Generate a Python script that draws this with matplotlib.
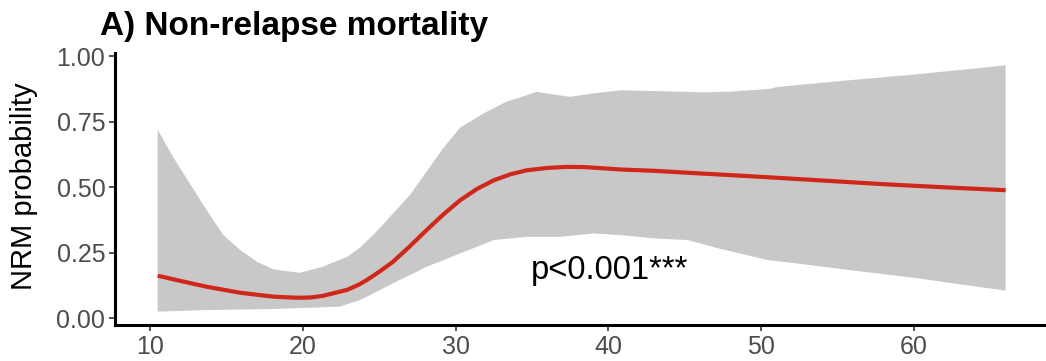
import numpy as np
import matplotlib.pyplot as plt

plt.rcParams['font.family'] = ['Liberation Sans', 'DejaVu Sans']

# fitted NRM probability by age
age = [10.5, 12, 13.7, 15.9, 18.1, 19.6, 20.5, 21.3, 22.9, 23.7, 24.2, 25.05,
       25.9, 27.0, 28.1, 29.2, 30.3, 31.4, 32.5, 33.6, 34.65, 36.0, 37.3,
       38.5, 40.8, 43, 46, 50, 54, 58, 62, 66]
nrm = [0.163, 0.143, 0.121, 0.098, 0.083, 0.079, 0.080, 0.086, 0.109, 0.130,
       0.147, 0.180, 0.216, 0.275, 0.337, 0.397, 0.451, 0.494, 0.527, 0.550,
       0.565, 0.574, 0.578, 0.577, 0.568, 0.563, 0.553, 0.540, 0.526, 0.512,
       0.500, 0.489]

# confidence band, upper edge
up_age = [10.5, 11.5, 12.6, 13.7, 14.8, 15.9, 17.0, 18.1, 19.8, 21.3, 22.9,
          23.74, 24.8, 25.9, 27.0, 28.1, 29.2, 30.3, 31.8, 33.3, 34.6, 35.3,
          36.8, 37.5, 39.0, 40.8, 43, 45.2, 46.2, 48, 50.5, 51.1, 55.7, 60,
          66]
up_val = [0.720, 0.616, 0.515, 0.413, 0.318, 0.261, 0.216, 0.187, 0.174,
          0.197, 0.235, 0.270, 0.330, 0.400, 0.470, 0.560, 0.650, 0.728,
          0.781, 0.826, 0.850, 0.864, 0.851, 0.845, 0.858, 0.870, 0.867,
          0.864, 0.862, 0.865, 0.875, 0.883, 0.908, 0.930, 0.965]

# confidence band, lower edge
lo_age = [10.5, 13.7, 18.1, 22.4, 23.74, 24.6, 25.9, 28.1, 30.3, 32.5, 34.6,
          36.8, 39.0, 40.8, 43, 45.2, 47, 50.4, 53, 55.7, 60, 66]
lo_val = [0.026, 0.032, 0.036, 0.045, 0.070, 0.095, 0.134, 0.197, 0.248,
          0.299, 0.311, 0.311, 0.324, 0.318, 0.305, 0.299, 0.270, 0.223,
          0.205, 0.185, 0.155, 0.106]

fig = plt.figure(figsize=(10.46, 3.61), dpi=100)
ax = fig.add_axes([0.110, 0.0997, 0.890, 0.7533])

# band as one polygon: upper edge left to right, lower edge back
ax.fill(up_age + lo_age[::-1], up_val + lo_val[::-1], color='#c8c8c8', lw=0)
ax.plot(age, nrm, color='#d0271b', lw=3.0, solid_capstyle='butt')

ax.text(34.9, 0.15, 'p<0.001***', fontsize=23.5, ha='left', va='baseline')

ax.set_xlim(7.71, 68.64)
ax.set_ylim(-0.025, 1.012)
ax.set_xticks([10, 20, 30, 40, 50, 60])
ax.set_yticks([0, 0.25, 0.5, 0.75, 1.0])
ax.set_yticklabels(['0.00', '0.25', '0.50', '0.75', '1.00'])
ax.tick_params(labelsize=18, labelcolor='#4d4d4d', color='#333333',
               length=4, width=1.2, pad=3)
for s in ['top', 'right']:
    ax.spines[s].set_visible(False)
for s in ['left', 'bottom']:
    ax.spines[s].set_linewidth(2.2)
    ax.spines[s].set_color('black')

ax.set_ylabel('NRM probability', fontsize=21)
ax.yaxis.set_label_coords(-0.083, 0.51)

fig.text(0.0956, 0.903, 'A) Non-relapse mortality', fontsize=24,
         fontweight='bold', ha='left', va='baseline')

fig.savefig('out.png', dpi=100)
